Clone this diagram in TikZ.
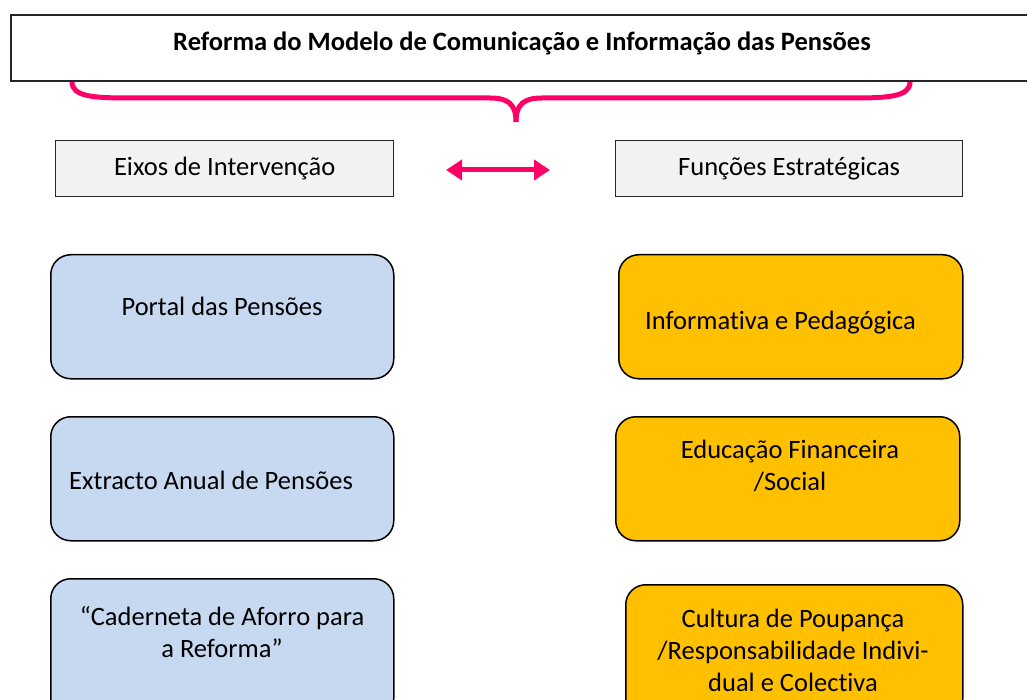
\documentclass[tikz,border=0pt]{standalone}
\usepackage{fontspec}
\setmainfont{Carlito}[Ligatures=NoCommon]
\usetikzlibrary{arrows.meta}
\definecolor{pinkc}{HTML}{FF0066}
\definecolor{bluef}{HTML}{C6D9F1}
\definecolor{orangef}{HTML}{FFC000}
\definecolor{grayf}{HTML}{F2F2F2}
\tikzset{
  hdr/.style={draw=black!85, line width=1.3pt, fill=grayf, minimum width=#1, minimum height=56pt, inner sep=0pt, anchor=north west},
  bluebox/.style={draw=black, line width=1.5pt, fill=bluef, rounded corners=20pt, anchor=north west, inner sep=0pt, minimum width=343pt},
  orbox/.style={draw=black, line width=1.5pt, fill=orangef, rounded corners=20pt, anchor=north west, inner sep=0pt, minimum width=#1},
  txt/.style={font=\fontsize{26.5}{32}\selectfont, align=center, inner sep=0pt},
  pinkline/.style={draw=pinkc, line width=5pt}
}
\begin{document}
\begin{tikzpicture}[x=1pt,y=-1pt]
\useasboundingbox (0,0) rectangle (1027,700);
% title
\node[draw=black!85, line width=2pt, fill=white, anchor=north west, minimum width=1030pt, minimum height=66pt, inner sep=0pt] (title) at (10,14) {};
\node[font=\fontsize{26.5}{30}\selectfont\bfseries, inner sep=0pt] (titletxt) at (522,43) {Reforma do Modelo de Comunicação e Informação das Pensões};
% brace
\draw[pinkline] (72,82) .. controls (72,97) and (95,98) .. (130,98) -- (490,98) .. controls (508,98) and (516,104) .. (516,122);
\draw[pinkline] (910,82) .. controls (910,97) and (887,98) .. (852,98) -- (542,98) .. controls (524,98) and (516,104) .. (516,122);
% headers
\node[hdr=338pt] (eixos) at (55,140) {};
\node[txt] at (eixos.center) {Eixos de Intervenção};
\node[hdr=347pt] (funcoes) at (615,140) {};
\node[txt] at (funcoes.center) {Funções Estratégicas};
% arrow
\coordinate (a1) at (446,170);
\coordinate (a2) at (550,170);
\draw[pinkc, line width=5pt, {Triangle[length=16pt,width=20pt]}-{Triangle[length=16pt,width=20pt]}] (a1) -- (a2);
% blue boxes
\node[bluebox, minimum height=124pt] (b1) at (50,254) {};
\node[txt] at (222,306) {Portal das Pensões};
\node[bluebox, minimum height=124pt] (b2) at (50,416) {};
\node[txt, anchor=west] at (69,480) {Extracto Anual de Pensões};
\node[bluebox, minimum height=140pt] (b3) at (50,578) {};
\node[txt] at (222,632) {“Caderneta de Aforro para\\a Reforma”};
% orange boxes
\node[orbox=344pt, minimum height=124pt] (o1) at (618,254) {};
\node[txt, anchor=west] at (645,323) {Informativa e Pedagógica};
\node[orbox=344pt, minimum height=124pt] (o2) at (615,416) {};
\node[txt] at (790,466) {Educação Financeira\\/Social};
\node[orbox=337pt, minimum height=134pt] (o3) at (625,584) {};
\node[txt] at (793,650) {Cultura de Poupança\\/Responsabilidade Indivi-\\dual e Colectiva};
\end{tikzpicture}
\end{document}
